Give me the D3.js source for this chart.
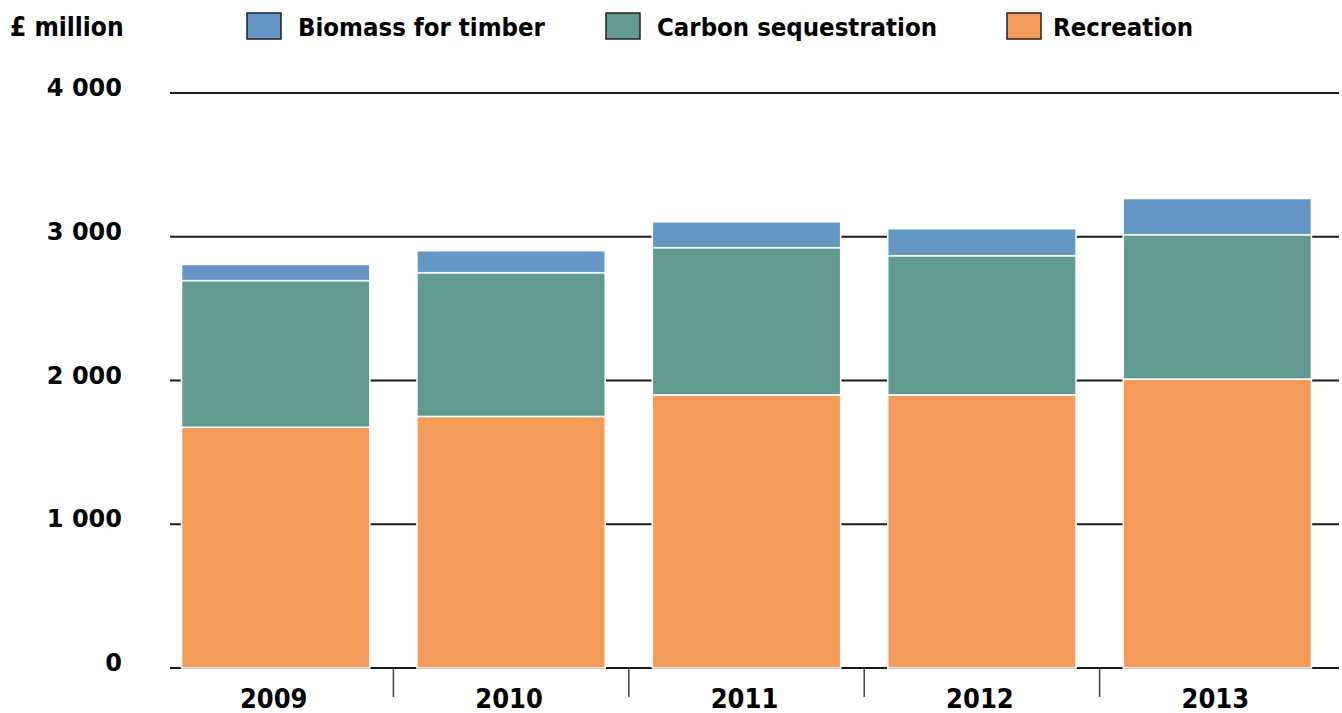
<!DOCTYPE html>
<html>
<head>
<meta charset="utf-8">
<script src="https://cdn.jsdelivr.net/npm/d3@7"></script>
<style>
  html, body { margin: 0; padding: 0; background: #fff; }
  svg { display: block; }
</style>
</head>
<body>
<div id="chart"></div>
<script>
// data (£ million)
const years = ['2009', '2010', '2011', '2012', '2013']
const recreation = [1675, 1750, 1900, 1900, 2010]
const carbon = [1020, 1000, 1024, 968, 1004]
const biomass = [112, 153, 180, 188, 252]
const seriesKeys = ['recreation', 'carbon', 'biomass']
const seriesNames = {biomass: 'Biomass for timber', carbon: 'Carbon sequestration', recreation: 'Recreation'}
const legendOrder = ['biomass', 'carbon', 'recreation']
const yTicks = [0, 1000, 2000, 3000, 4000]

const colors = {biomass: '#6497c6', carbon: '#619a91', recreation: '#f39c5a'}

class StackedBar {
  constructor (conf) {
    Object.assign(this, conf)
    this.init()
  }

  init () {
    this.svg = d3.select(`#${this.id}`)
      .append('svg')
      .attr('width', this.width)
      .attr('height', this.height)
    this.x = d3.scaleBand()
      .domain(years)
      .range([158, 1335])
      .paddingInner(0.2)
      .paddingOuter(0.1)
    this.y = d3.scaleLinear()
      .domain([0, 4000])
      .range([668, 93])
  }

  draw (rows) {
    this.generateAxis()
    const stack = d3.stack().keys(seriesKeys)(rows)
    // bars
    this.svg.append('g')
      .selectAll('g')
      .data(stack)
      .join('g')
      .attr('fill', d => colors[d.key])
      .selectAll('rect')
      .data(d => d)
      .join('rect')
      .attr('x', d => this.x(d.data.year))
      .attr('width', this.x.bandwidth())
      .attr('y', d => this.y(d[1]))
      .attr('height', d => this.y(d[0]) - this.y(d[1]))
      .attr('stroke', '#fff')
      .attr('stroke-width', 1.5)
    this.drawLegend()
  }

  generateAxis () {
    const fmt = v => d3.format(',')(v).replace(/,/g, ' ')
    // horizontal grid lines
    const grid = this.svg.append('g')
    grid.selectAll('line')
      .data(yTicks)
      .join('line')
      .attr('x1', 170)
      .attr('x2', 1339)
      .attr('y1', d => this.y(d))
      .attr('y2', d => this.y(d))
      .attr('stroke', '#1a1a1a')
      .attr('stroke-width', 2)
    grid.selectAll('text')
      .data(yTicks)
      .join('text')
      .attr('x', 122)
      .attr('y', d => this.y(d) + 3)
      .attr('text-anchor', 'end')
      .style('font', 'bold 24px "DejaVu Sans"')
      .text(fmt)

    // x ticks between categories
    const step = this.x.step()
    const y0 = this.y(0)
    const xg = this.svg.append('g')
    xg.selectAll('line')
      .data(years.slice(1))
      .join('line')
      .attr('x1', d => this.x(d) - step * 0.1)
      .attr('x2', d => this.x(d) - step * 0.1)
      .attr('y1', y0)
      .attr('y2', y0 + 29)
      .attr('stroke', '#444')
      .attr('stroke-width', 1.5)
    xg.selectAll('text')
      .data(years)
      .join('text')
      .attr('x', d => this.x(d) + this.x.bandwidth() / 2 - 2)
      .attr('y', 708)
      .attr('text-anchor', 'middle')
      .style('font', 'bold 27px "DejaVu Sans Condensed"')
      .text(d => d)

    this.svg.append('text')
      .attr('x', 10)
      .attr('y', 36)
      .style('font', 'bold 26px "DejaVu Sans Condensed"')
      .text('£ million')
  }

  drawLegend () {
    const pos = {biomass: 247, carbon: 606, recreation: 1007}
    const textDx = {biomass: 51, carbon: 51, recreation: 46}
    const lg = this.svg.append('g')
    const item = lg.selectAll('g')
      .data(legendOrder)
      .join('g')
      .attr('transform', d => `translate(${pos[d]}, 13)`)
    item.append('rect')
      .attr('width', 34)
      .attr('height', 26)
      .attr('fill', d => colors[d])
      .attr('stroke', '#222')
      .attr('stroke-width', 1.5)
    item.append('text')
      .attr('x', d => textDx[d])
      .attr('y', 23)
      .style('font', 'bold 25.5px "DejaVu Sans Condensed"')
      .text(d => seriesNames[d])
  }
}

const rows = years.map((year, i) => ({
  year,
  recreation: recreation[i],
  carbon: carbon[i],
  biomass: biomass[i]
}))

new StackedBar({width: 1342, height: 713, id: 'chart'}).draw(rows)
</script>
</body>
</html>
